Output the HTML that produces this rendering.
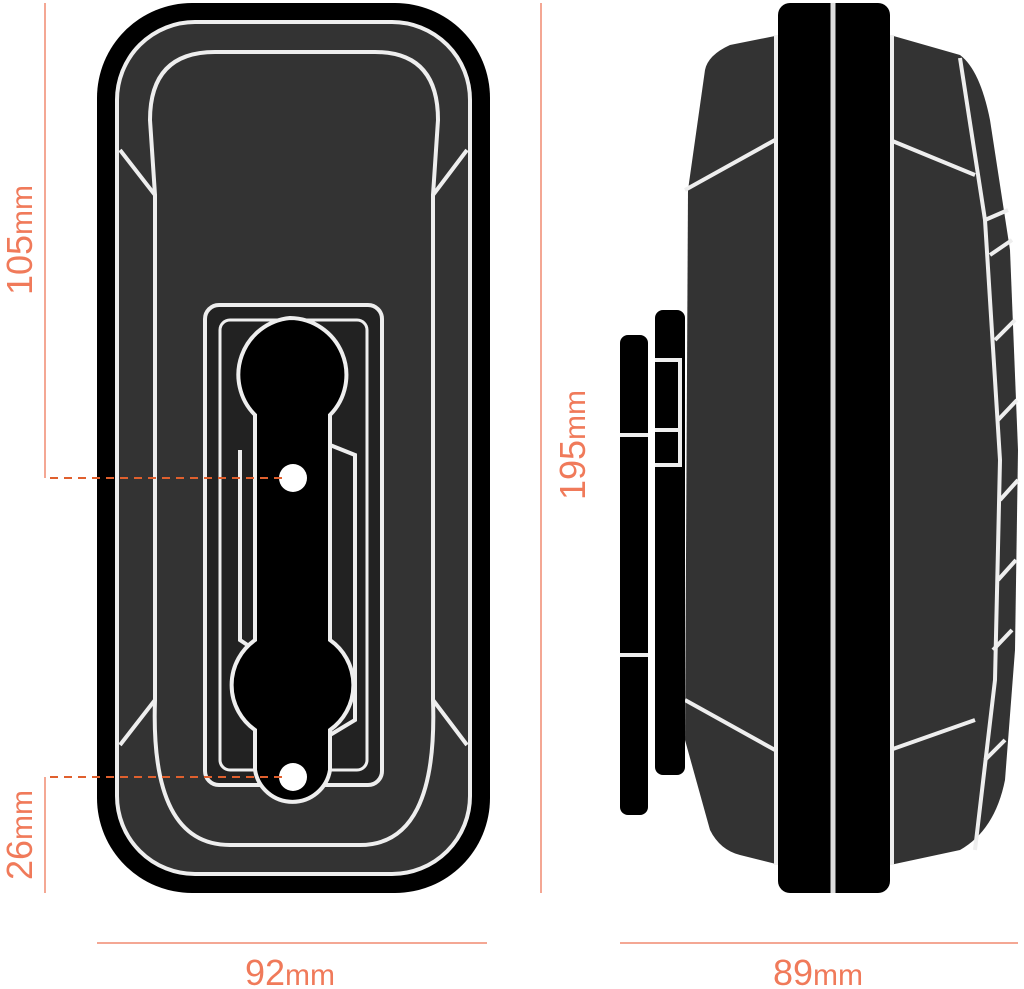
<!DOCTYPE html>
<html><head><style>html,body{margin:0;padding:0;background:#fff}svg{display:block}</style></head><body>
<svg width="1024" height="989" viewBox="0 0 1024 989" xmlns="http://www.w3.org/2000/svg" font-family="Liberation Sans, sans-serif">
<rect x="97" y="3" width="393" height="890" rx="95" fill="#000"/>
<rect x="117" y="22" width="353" height="852" rx="78" fill="#333" stroke="#eee" stroke-width="4"/>
<path d="M120 150 L155 195 L155 700 L120 745" fill="none" stroke="#eee" stroke-width="4"/>
<path d="M467 150 L433 195 L433 700 L467 745" fill="none" stroke="#eee" stroke-width="4"/>
<path d="M155 195 L150 120 Q150 52 215 52 L375 52 Q438 52 438 120 L433 195" fill="none" stroke="#eee" stroke-width="4"/>
<path d="M155 700 Q150 845 230 845 L360 845 Q438 845 433 700" fill="none" stroke="#eee" stroke-width="4"/>
<rect x="205" y="305" width="177" height="480" rx="14" fill="#222" stroke="#eee" stroke-width="4"/>
<rect x="220" y="320" width="147" height="450" rx="10" fill="none" stroke="#eee" stroke-width="3"/>
<path d="M330 445 L355 455 L355 720 L330 735" fill="none" stroke="#eee" stroke-width="4"/>
<path d="M240 450 L240 640 L255 650" fill="none" stroke="#eee" stroke-width="4"/>
<path d="M290 318 A57 57 0 0 1 330 415 L330 640 A55 55 0 0 1 330 730 L330 770 A38 38 0 0 1 255 770 L255 730 A55 55 0 0 1 255 640 L255 415 A57 57 0 0 1 290 318 Z" fill="#000" stroke="#eee" stroke-width="4"/>
<circle cx="293" cy="478" r="14" fill="#fff"/>
<circle cx="293" cy="777" r="14" fill="#fff"/>
<path d="M780 35 L730 45 Q708 55 705 70 L688 190 L685 740 L710 830 Q720 850 740 855 L780 865 Z" fill="#333"/>
<path d="M890 35 L960 55 Q980 70 990 120 L1010 250 L1018 450 L1015 650 L1005 780 Q995 830 960 850 L890 865 Z" fill="#333"/>
<path d="M685 190 L775 140 M890 140 L975 175 M685 700 L775 750 M890 750 L975 720" stroke="#eee" stroke-width="4" fill="none"/>
<path d="M960 58 L985 220 L1000 460 L995 680 L975 850" stroke="#eee" stroke-width="4" fill="none"/>
<path d="M985 220 L1008 210 M990 255 L1012 240 M995 340 L1015 320 M998 420 L1017 400 M1000 500 L1018 480 M998 580 L1016 560 M993 650 L1012 630 M985 760 L1005 740" stroke="#eee" stroke-width="4"/>
<rect x="778" y="3" width="112" height="890" rx="12" fill="#000"/>
<line x1="833" y1="3" x2="833" y2="893" stroke="#ddd" stroke-width="5"/>
<line x1="776" y1="35" x2="776" y2="865" stroke="#eee" stroke-width="4"/>
<line x1="892" y1="35" x2="892" y2="865" stroke="#eee" stroke-width="4"/>
<rect x="620" y="335" width="28" height="480" rx="8" fill="#000"/>
<rect x="655" y="310" width="30" height="465" rx="8" fill="#000"/>
<path d="M620 435 L648 435 M620 655 L648 655 M655 360 L680 360 L680 465 L655 465 M655 430 L680 430" stroke="#eee" stroke-width="4" fill="none"/>
<g stroke="#f08a70" stroke-width="1.5" fill="none">
<line x1="45" y1="3" x2="45" y2="478"/>
<line x1="45" y1="777" x2="45" y2="893"/>
<line x1="541" y1="3" x2="541" y2="893"/>
<line x1="97" y1="943" x2="487" y2="943"/>
<line x1="620" y1="943" x2="1018" y2="943"/>
</g>
<g stroke="#e0602e" stroke-width="2" stroke-dasharray="8 6">
<line x1="50" y1="478" x2="285" y2="478"/>
<line x1="50" y1="777" x2="285" y2="777"/>
</g>
<g fill="#f07a5a" font-size="36">
<text x="290" y="985" text-anchor="middle">92<tspan font-size="30">mm</tspan></text>
<text x="818" y="985" text-anchor="middle">89<tspan font-size="30">mm</tspan></text>
<text transform="translate(32 240) rotate(-90)" text-anchor="middle">105<tspan font-size="30">mm</tspan></text>
<text transform="translate(32 835) rotate(-90)" text-anchor="middle">26<tspan font-size="30">mm</tspan></text>
<text transform="translate(585 445) rotate(-90)" text-anchor="middle">195<tspan font-size="30">mm</tspan></text>
</g>
</svg>
</body></html>
